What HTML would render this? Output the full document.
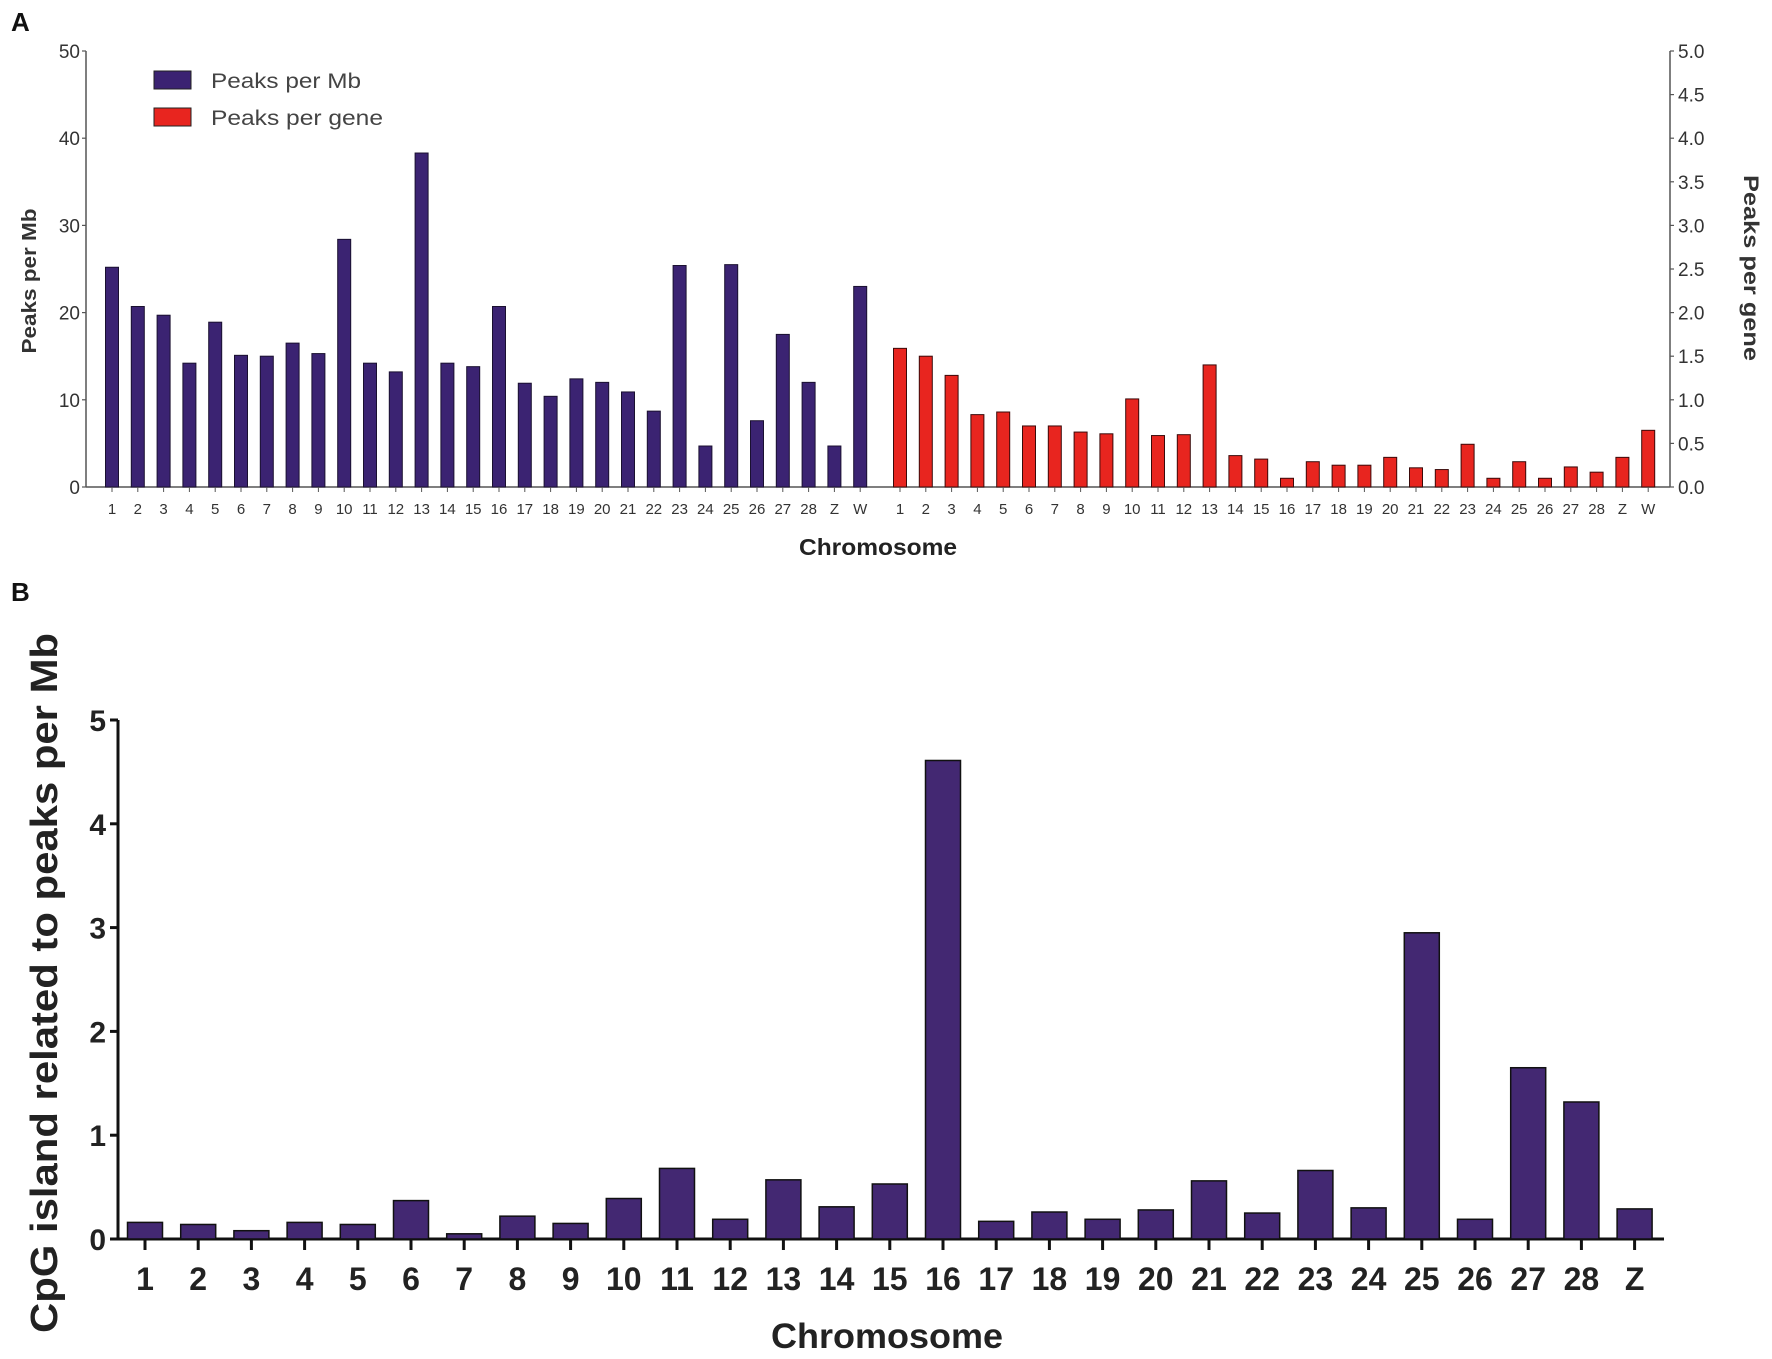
<!DOCTYPE html>
<html><head><meta charset="utf-8"><style>
html,body{margin:0;padding:0;background:#fff;}
svg{display:block;font-family:"Liberation Sans",Arial,sans-serif;}
</style></head><body>
<svg id="fig" width="1772" height="1359" viewBox="0 0 1772 1359" xmlns="http://www.w3.org/2000/svg">
<text x="11" y="31" font-size="26" font-weight="bold" fill="#111">A</text>
<text x="11" y="601" font-size="26" font-weight="bold" fill="#111">B</text>
<g id="pa"></g>
<g id="pb"></g>
<g>
<rect x="154" y="71" width="37" height="18" fill="#3b2372" stroke="#222" stroke-width="1"/>
<text x="211" y="88" font-size="21" fill="#444" textLength="150" lengthAdjust="spacingAndGlyphs">Peaks per Mb</text>
<rect x="154" y="108" width="37" height="18" fill="#e8251f" stroke="#222" stroke-width="1"/>
<text x="211" y="125" font-size="21" fill="#444" textLength="172" lengthAdjust="spacingAndGlyphs">Peaks per gene</text>
</g>
</svg>
<script>
const catsA = ["1","2","3","4","5","6","7","8","9","10","11","12","13","14","15","16","17","18","19","20","21","22","23","24","25","26","27","28","Z","W"];
const peaksPerMb = [25.2,20.7,19.7,14.2,18.9,15.1,15.0,16.5,15.3,28.4,14.2,13.2,38.3,14.2,13.8,20.7,11.9,10.4,12.4,12.0,10.9,8.7,25.4,4.7,25.5,7.6,17.5,12.0,4.7,23.0];
const peaksPerGene = [1.59,1.50,1.28,0.83,0.86,0.70,0.70,0.63,0.61,1.01,0.59,0.60,1.40,0.36,0.32,0.10,0.29,0.25,0.25,0.34,0.22,0.20,0.49,0.10,0.29,0.10,0.23,0.17,0.34,0.65];
const ticksLeftA = ["0","10","20","30","40","50"];
const ticksRightA = ["0.0","0.5","1.0","1.5","2.0","2.5","3.0","3.5","4.0","4.5","5.0"];
const catsB = ["1","2","3","4","5","6","7","8","9","10","11","12","13","14","15","16","17","18","19","20","21","22","23","24","25","26","27","28","Z"];
const cpgValues = [0.16,0.14,0.08,0.16,0.14,0.37,0.05,0.22,0.15,0.39,0.68,0.19,0.57,0.31,0.53,4.61,0.17,0.26,0.19,0.28,0.56,0.25,0.66,0.30,2.95,0.19,1.65,1.32,0.29];
const ticksB = ["0","1","2","3","4","5"];

const NS="http://www.w3.org/2000/svg";
function mk(parent,tag,attrs,txt){const e=document.createElementNS(NS,tag);for(const k in attrs)e.setAttribute(k,attrs[k]);if(txt!==undefined)e.textContent=txt;parent.appendChild(e);return e;}

// Panel A
const pa=document.getElementById('pa');
const aX0=86,aX1=1670,aY0=487,aY1=51;
const yL=v=>aY0-(v/50)*(aY0-aY1);
const yR=v=>aY0-(v/5)*(aY0-aY1);
const xMb=i=>112+i*25.8;
const xGene=i=>900+i*25.8;
mk(pa,'line',{x1:aX0,y1:aY1,x2:aX0,y2:aY0,stroke:'#555','stroke-width':1.5});
mk(pa,'line',{x1:aX1,y1:aY1,x2:aX1,y2:aY0,stroke:'#555','stroke-width':1.5});
mk(pa,'line',{x1:aX0,y1:aY0,x2:aX1,y2:aY0,stroke:'#555','stroke-width':1.5});
ticksLeftA.forEach(t=>{const y=yL(+t);
 mk(pa,'line',{x1:aX0-4,y1:y,x2:aX0,y2:y,stroke:'#555','stroke-width':1.2});
 const e=mk(pa,'text',{x:aX0-6,y:y+7,'font-size':19,'text-anchor':'end',fill:'#333'},t);
 
 
});
ticksRightA.forEach(t=>{const y=yR(+t);
 mk(pa,'line',{x1:aX1,y1:y,x2:aX1+4,y2:y,stroke:'#555','stroke-width':1.2});
 const e=mk(pa,'text',{x:aX1+8,y:y+7,'font-size':19,fill:'#333'},t);
 
 
});
peaksPerMb.forEach((v,i)=>{const x=xMb(i),y=yL(v);
 const r=mk(pa,'rect',{x:x-6.5,y:y,width:13,height:aY0-y,fill:'#3b2372',stroke:'#1a1030','stroke-width':1});
 
 
 mk(pa,'line',{x1:x,y1:aY0,x2:x,y2:aY0+5,stroke:'#555'});
 const t=mk(pa,'text',{x:x,y:514,'font-size':15,'text-anchor':'middle',fill:'#333'},catsA[i]);
 
 
});
peaksPerGene.forEach((v,i)=>{const x=xGene(i),y=yR(v);
 const r=mk(pa,'rect',{x:x-6.5,y:y,width:13,height:aY0-y,fill:'#e8251f',stroke:'#3a0a0a','stroke-width':1});
 
 
 mk(pa,'line',{x1:x,y1:aY0,x2:x,y2:aY0+5,stroke:'#555'});
 const t=mk(pa,'text',{x:x,y:514,'font-size':15,'text-anchor':'middle',fill:'#333'},catsA[i]);
 
 
});
let e;
e=mk(pa,'text',{x:878,y:555,'font-size':23,'font-weight':'bold','text-anchor':'middle',fill:'#222',textLength:158,lengthAdjust:'spacingAndGlyphs'},'Chromosome');


e=mk(pa,'text',{x:0,y:0,'font-size':20,'font-weight':'bold','text-anchor':'middle',fill:'#333',textLength:145,lengthAdjust:'spacingAndGlyphs',transform:'translate(36,281) rotate(-90)'},'Peaks per Mb');


e=mk(pa,'text',{x:0,y:0,'font-size':21,'font-weight':'bold','text-anchor':'middle',fill:'#333',textLength:186,lengthAdjust:'spacingAndGlyphs',transform:'translate(1744,268) rotate(90)'},'Peaks per gene');



// Panel B
const pb=document.getElementById('pb');
const bX0=118,bX1=1664,bY0=1239,bY1=720;
const yB=v=>bY0-(v/5)*(bY0-bY1);
const xB=i=>145+i*53.2;
mk(pb,'line',{x1:bX0,y1:bY1,x2:bX0,y2:bY0,stroke:'#111','stroke-width':3});
mk(pb,'line',{x1:bX0,y1:bY0,x2:bX1,y2:bY0,stroke:'#111','stroke-width':3});
ticksB.forEach(t=>{const y=yB(+t);
 mk(pb,'line',{x1:bX0-8,y1:y,x2:bX0,y2:y,stroke:'#111','stroke-width':3});
 const e=mk(pb,'text',{x:bX0-12,y:y+11,'font-size':30,'font-weight':'bold','text-anchor':'end',fill:'#222'},t);
 
 
});
cpgValues.forEach((v,i)=>{const x=xB(i),y=yB(v);
 const r=mk(pb,'rect',{x:x-17.5,y:y,width:35,height:bY0-y,fill:'#432872',stroke:'#111','stroke-width':1.5});
 
 
 mk(pb,'line',{x1:x,y1:bY0,x2:x,y2:bY0+11,stroke:'#111','stroke-width':3});
 const t=mk(pb,'text',{x:x,y:1290,'font-size':32,'font-weight':'bold','text-anchor':'middle',fill:'#222'},catsB[i]);
 
 
});
e=mk(pb,'text',{x:887,y:1348,'font-size':35,'font-weight':'bold','text-anchor':'middle',fill:'#222',textLength:232,lengthAdjust:'spacingAndGlyphs'},'Chromosome');


e=mk(pb,'text',{x:0,y:0,'font-size':38,'font-weight':'bold','text-anchor':'middle',fill:'#222',textLength:700,lengthAdjust:'spacingAndGlyphs',transform:'translate(57,983) rotate(-90)'},'CpG island related to peaks per Mb');


</script>
</body></html>
